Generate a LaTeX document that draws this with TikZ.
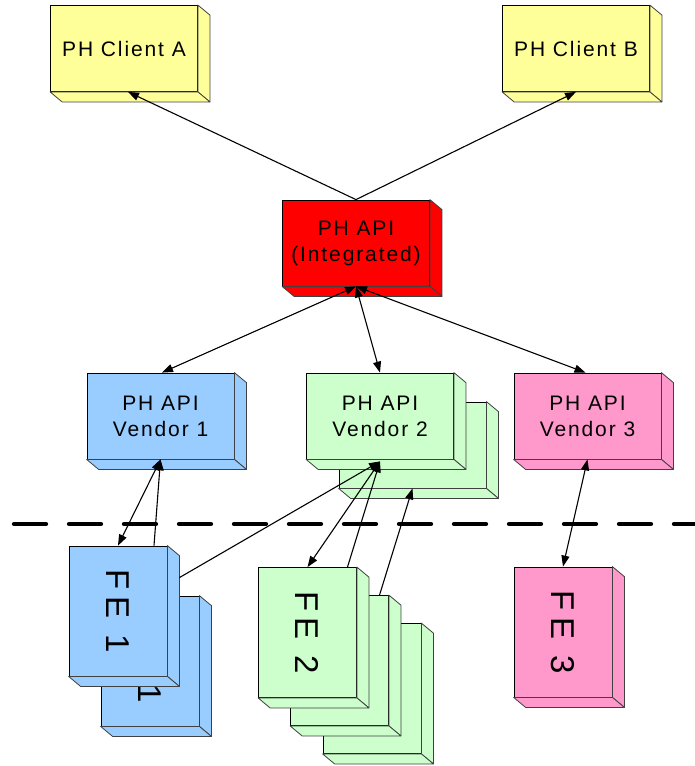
\documentclass[tikz,border=0pt]{standalone}
\usepackage{fontspec}
\setmainfont{Liberation Sans}
\newfontfamily\boxfont[LetterSpace=9]{Liberation Sans}
\newfontfamily\fefont[LetterSpace=20]{Liberation Sans}
\usetikzlibrary{arrows.meta,calc}

\definecolor{clientyellow}{HTML}{FFFF99}
\definecolor{apired}{HTML}{FF0000}
\definecolor{vblue}{HTML}{99CCFF}
\definecolor{vgreen}{HTML}{CCFFCC}
\definecolor{vpink}{HTML}{FF99CC}
\definecolor{edgegray}{HTML}{404040}

% side and bottom faces of a 3-D block whose front face is node #1
\newcommand\blocksides[2]{%
  \filldraw[face,fill=#2] (#1.north east) -- ++(12,10) -- ($(#1.south east)+(12,10)$) -- (#1.south east) -- cycle;
  \filldraw[face,fill=#2] (#1.south west) -- (#1.south east) -- ($(#1.south east)+(12,10)$) -- ($(#1.south west)+(12,10)$) -- cycle;
}

\tikzset{
  headtip/.tip={Triangle[length=11pt,width=8pt]},
  face/.style={draw=edgegray, line width=0.8pt, line join=round},
  front/.style={draw=black, line width=0.8pt, inner sep=0pt, align=center,
    text=black, font=\boxfont\fontsize{21}{26}\selectfont},
  apibox/.style={front, minimum width=147pt, minimum height=86pt},
  febox/.style={front, minimum width=98pt, minimum height=130pt,
    font=\fefont\fontsize{33}{33}\selectfont},
  conn/.style={line width=1.1pt, -{headtip}},
  twoway/.style={line width=1.1pt, {headtip}-{headtip}},
  divider/.style={line width=4.3pt, line cap=round, dash pattern=on 32pt off 23pt}
}

\begin{document}
\begin{tikzpicture}[x=1pt, y=-1pt]
\useasboundingbox (0,0) rectangle (694,766);

% clients
\node[apibox, fill=clientyellow] (ca) at (124,48.5) {PH Client A};
\blocksides{ca}{clientyellow}
\node[apibox, fill=clientyellow] (cb) at (576,48.5) {PH Client B};
\blocksides{cb}{clientyellow}

% integrated API
\node[apibox, fill=apired] (api) at (356,243) {PH API\\(Integrated)};
\blocksides{api}{apired}

% vendor APIs
\node[apibox, fill=vblue] (v1) at (160.5,416) {PH API\\Vendor 1};
\blocksides{v1}{vblue}
\node[apibox, fill=vgreen] (v2b) at (412.5,445) {};
\blocksides{v2b}{vgreen}
\node[apibox, fill=vgreen] (v2) at (380,416) {PH API\\Vendor 2};
\blocksides{v2}{vgreen}
\node[apibox, fill=vpink] (v3) at (587.5,416) {PH API\\Vendor 3};
\blocksides{v3}{vpink}

% boundary
\coordinate (dl) at (14,524);
\coordinate (dr) at (700,524);
\draw[divider] (dl) -- (dr);

% front ends
\node[febox, fill=vblue] (fe1b) at (150,661) {\rotatebox{-90}{FE 1}};
\blocksides{fe1b}{vblue}
\node[febox, fill=vblue] (fe1a) at (118,611) {\rotatebox{-90}{FE 1}};
\blocksides{fe1a}{vblue}

\node[febox, fill=vgreen] (fe2c) at (372,688.5) {\rotatebox{-90}{FE 2}};
\blocksides{fe2c}{vgreen}
\node[febox, fill=vgreen] (fe2b) at (339.5,660.5) {\rotatebox{-90}{FE 2}};
\blocksides{fe2b}{vgreen}
\node[febox, fill=vgreen] (fe2a) at (307.5,632.5) {\rotatebox{-90}{FE 2}};
\blocksides{fe2a}{vgreen}

\node[febox, fill=vpink] (fe3) at (563,632) {\rotatebox{-90}{FE 3}};
\blocksides{fe3}{vpink}

% connectors
\draw[conn] (api.north) -- ([xshift=4pt]ca.south);
\draw[conn] (api.north) -- (cb.south);

\draw[twoway] ([xshift=1.5pt]v1.north) -- (api.south);
\draw[twoway] (v2.north) -- (api.south);
\draw[twoway] ([xshift=-2pt]v3.north) -- (api.south);

\draw[twoway] (fe1a.north) -- (v1.south);
\draw[conn] ([xshift=36pt]fe1a.north) -- (v1.south);
\draw[conn] ([xshift=12pt,yshift=-32pt]fe1a.north east) -- ([yshift=-2pt]v2.south);

\draw[twoway] (fe2a.north) -- ([yshift=-2pt]v2.south);
\draw[conn] ([xshift=40pt]fe2a.north) -- ([yshift=-2pt]v2.south);
\draw[conn] ([xshift=40pt]fe2b.north) -- (v2b.south);

\draw[twoway] (fe3.north) -- (v3.south);
\end{tikzpicture}
\end{document}
